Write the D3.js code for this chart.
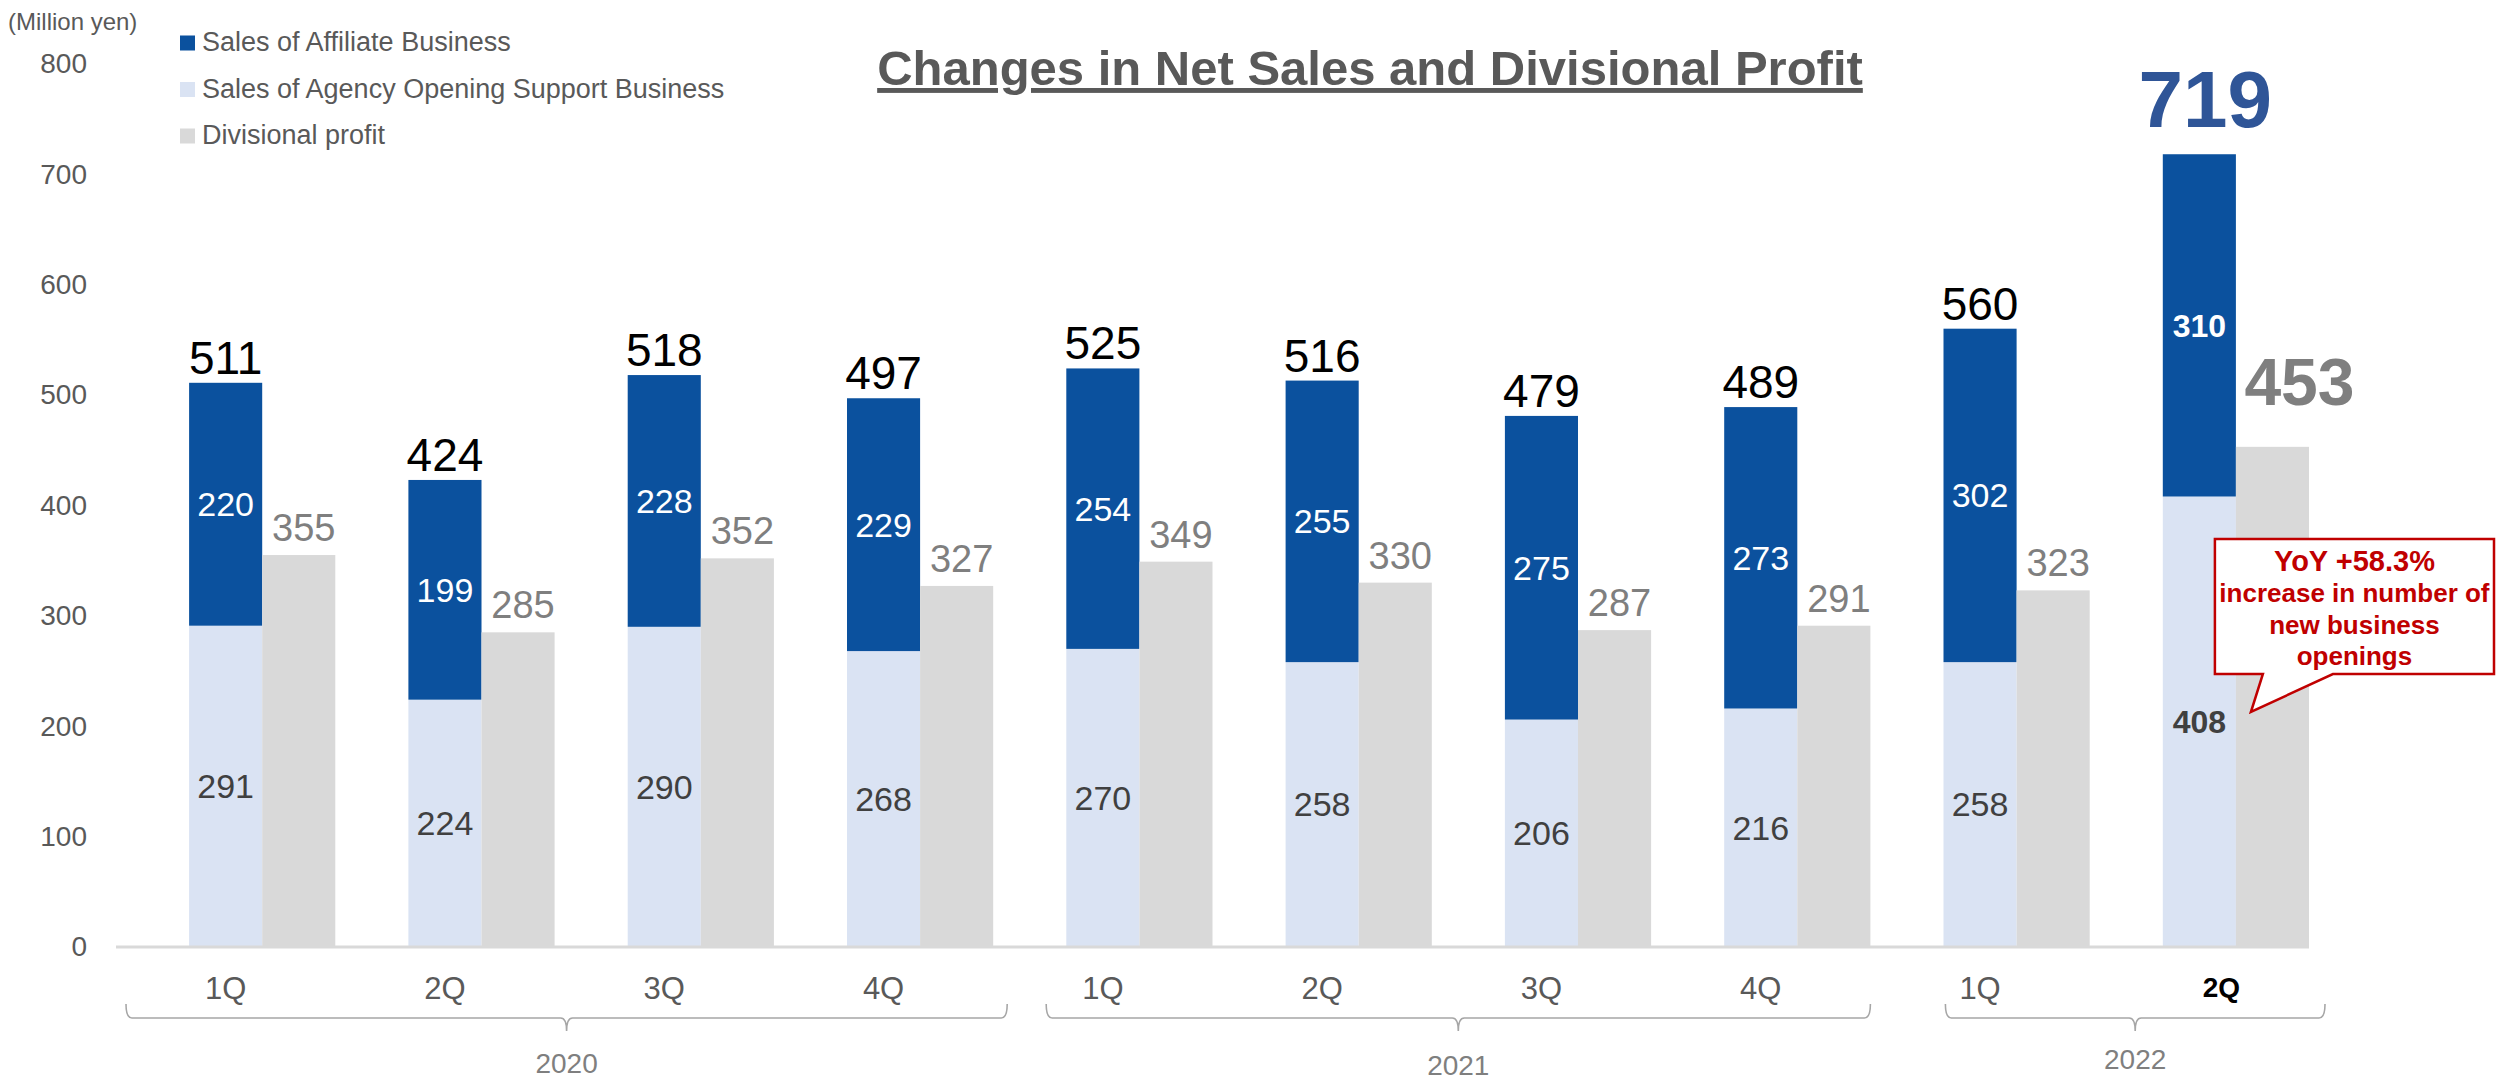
<!DOCTYPE html>
<html>
<head>
<meta charset="utf-8">
<script src="https://d3js.org/d3.v7.min.js"></script>
<style>
  body { margin: 0; background: #fff; }
  svg { display: block; font-family: "Liberation Sans", Arial, sans-serif; }
</style>
</head>
<body>
<script>
// ---- data (million yen) ----
var quarters = ["1Q", "2Q", "3Q", "4Q", "1Q", "2Q", "3Q", "4Q", "1Q", "2Q"];
var years = ["2020", "2021", "2022"];
var yearSpans = [[0, 3], [4, 7], [8, 9]];
var agencySales = [291, 224, 290, 268, 270, 258, 206, 216, 258, 408];
var affiliateSales = [220, 199, 228, 229, 254, 255, 275, 273, 302, 310];
var salesTotals = [511, 424, 518, 497, 525, 516, 479, 489, 560, 719];
var divisionalProfit = [355, 285, 352, 327, 349, 330, 287, 291, 323, 453];
var yTicks = [0, 100, 200, 300, 400, 500, 600, 700, 800];
var legendLabels = ["Sales of Affiliate Business", "Sales of Agency Opening Support Business", "Divisional profit"];
var calloutLines = ["YoY +58.3%", "increase in number of", "new business", "openings"];

// ---- layout ----
var W = 2496, H = 1081;
var colAffiliate = "#0b519e", colAgency = "#dae3f3", colProfit = "#d9d9d9";
var textGray = "#595959";
var last = quarters.length - 1;

var svg = d3.select("body").append("svg")
    .attr("width", W)
    .attr("height", H);

// scales
var x = d3.scaleBand().domain(d3.range(quarters.length)).range([116, 2309]).padding(0);
var inner = d3.scaleBand().domain(["gap", "sales", "profit"]).range([0, x.bandwidth()]);
var y = d3.scaleLinear().domain([0, 800]).range([947, 63.7]);

var salesX = function(i) { return x(i) + inner("sales"); };
var profitX = function(i) { return x(i) + inner("profit"); };
var bw = inner.bandwidth();

// y axis (labels only)
var yAxis = svg.append("g")
    .attr("transform", "translate(95,0)")
    .call(d3.axisLeft(y).tickValues(yTicks).tickSize(0).tickPadding(8));
yAxis.select(".domain").remove();
yAxis.selectAll("text")
    .attr("fill", textGray)
    .style("font-size", "28px")
    .style("font-family", "Liberation Sans, Arial, sans-serif");

// unit label
svg.append("text")
    .attr("x", 8).attr("y", 30)
    .attr("fill", textGray)
    .style("font-size", "24px")
    .text("(Million yen)");

// bars: agency (bottom), affiliate (stacked), profit (side)
var idx = d3.range(quarters.length);

svg.append("g").selectAll("rect")
    .data(idx).enter().append("rect")
    .attr("x", salesX)
    .attr("width", bw)
    .attr("y", function(i) { return y(agencySales[i]); })
    .attr("height", function(i) { return y(0) - y(agencySales[i]); })
    .attr("fill", colAgency);

svg.append("g").selectAll("rect")
    .data(idx).enter().append("rect")
    .attr("x", salesX)
    .attr("width", bw)
    .attr("y", function(i) { return y(agencySales[i] + affiliateSales[i]); })
    .attr("height", function(i) { return y(agencySales[i]) - y(agencySales[i] + affiliateSales[i]); })
    .attr("fill", colAffiliate);

svg.append("g").selectAll("rect")
    .data(idx).enter().append("rect")
    .attr("x", profitX)
    .attr("width", bw)
    .attr("y", function(i) { return y(divisionalProfit[i]); })
    .attr("height", function(i) { return y(0) - y(divisionalProfit[i]); })
    .attr("fill", colProfit);

// baseline
svg.append("line")
    .attr("x1", x.range()[0]).attr("x2", x.range()[1])
    .attr("y1", y(0)).attr("y2", y(0))
    .attr("stroke", "#d9d9d9")
    .attr("stroke-width", 3);

// segment labels
svg.append("g").selectAll("text")
    .data(idx).enter().append("text")
    .attr("x", function(i) { return salesX(i) + bw / 2; })
    .attr("y", function(i) { return y(agencySales[i] / 2); })
    .attr("dy", "0.35em")
    .attr("text-anchor", "middle")
    .attr("fill", "#404040")
    .style("font-size", function(i) { return i === last ? "32px" : "34px"; })
    .style("font-weight", function(i) { return i === last ? "bold" : "normal"; })
    .text(function(i) { return agencySales[i]; });

svg.append("g").selectAll("text")
    .data(idx).enter().append("text")
    .attr("x", function(i) { return salesX(i) + bw / 2; })
    .attr("y", function(i) { return y(agencySales[i] + affiliateSales[i] / 2); })
    .attr("dy", "0.35em")
    .attr("text-anchor", "middle")
    .attr("fill", "#ffffff")
    .style("font-size", function(i) { return i === last ? "32px" : "34px"; })
    .style("font-weight", function(i) { return i === last ? "bold" : "normal"; })
    .text(function(i) { return affiliateSales[i]; });

// total labels above the stacked bars
svg.append("g").selectAll("text")
    .data(idx).enter().append("text")
    .attr("x", function(i) { return salesX(i) + bw / 2 + (i === last ? 6 : 0); })
    .attr("y", function(i) { return y(agencySales[i] + affiliateSales[i]) - (i === last ? 27 : 9); })
    .attr("text-anchor", "middle")
    .attr("fill", function(i) { return i === last ? "#2f5597" : "#000"; })
    .style("font-size", function(i) { return i === last ? "80px" : "46px"; })
    .style("font-weight", function(i) { return i === last ? "bold" : "normal"; })
    .text(function(i) { return salesTotals[i]; });

// profit labels
svg.append("g").selectAll("text")
    .data(idx).enter().append("text")
    .attr("x", function(i) { return profitX(i) + bw / 2 + (i === last ? 27 : 5); })
    .attr("y", function(i) { return y(divisionalProfit[i]) - (i === last ? 42 : 14); })
    .attr("text-anchor", "middle")
    .attr("fill", "#7f7f7f")
    .style("font-size", function(i) { return i === last ? "66px" : "38px"; })
    .style("font-weight", function(i) { return i === last ? "bold" : "normal"; })
    .text(function(i) { return divisionalProfit[i]; });

// category axis labels
var xAxis = svg.append("g")
    .attr("transform", "translate(0," + y(0) + ")")
    .call(d3.axisBottom(x).tickSize(0).tickPadding(30).tickFormat(function(i) { return quarters[i]; }));
xAxis.select(".domain").remove();
xAxis.selectAll("text")
    .attr("fill", function(i) { return i === last ? "#000" : textGray; })
    .attr("dx", function(i) { return i === last ? 22 : 0; })
    .style("font-size", function(i) { return i === last ? "28px" : "31px"; })
    .style("font-weight", function(i) { return i === last ? "bold" : "normal"; })
    .style("font-family", "Liberation Sans, Arial, sans-serif");

// year brackets
var bracketInsets = [[10, 14], [53, 0], [75, 16]];
var yearBaselines = [1073, 1075, 1069];
var bTop = 1004, bLine = 1018, bTail = 1031;
yearSpans.forEach(function(s, k) {
    var l = x(s[0]) + bracketInsets[k][0];
    var r = x(s[1]) + x.bandwidth() + bracketInsets[k][1];
    var c = (l + r) / 2;
    var p = d3.path();
    p.moveTo(l, bTop);
    p.quadraticCurveTo(l, bLine, l + 6, bLine);
    p.lineTo(c - 6, bLine);
    p.quadraticCurveTo(c, bLine, c, bTail);
    p.quadraticCurveTo(c, bLine, c + 6, bLine);
    p.lineTo(r - 6, bLine);
    p.quadraticCurveTo(r, bLine, r, bTop);
    svg.append("path")
        .attr("d", p.toString())
        .attr("fill", "none")
        .attr("stroke", "#a6a6a6")
        .attr("stroke-width", 1.6);
    svg.append("text")
        .attr("x", c).attr("y", yearBaselines[k])
        .attr("text-anchor", "middle")
        .attr("fill", "#7f7f7f")
        .style("font-size", "28px")
        .text(years[k]);
});

// legend
var legend = svg.append("g");
[colAffiliate, colAgency, colProfit].forEach(function(c, k) {
    var cy = 43 + k * 46.5;
    legend.append("rect")
        .attr("x", 180).attr("y", cy - 7.5)
        .attr("width", 15).attr("height", 15)
        .attr("fill", c);
    legend.append("text")
        .attr("x", 202).attr("y", cy)
        .attr("dy", "0.3em")
        .attr("fill", textGray)
        .style("font-size", "27px")
        .text(legendLabels[k]);
});

// title
svg.append("text")
    .attr("x", 1370).attr("y", 85)
    .attr("text-anchor", "middle")
    .attr("fill", textGray)
    .style("font-size", "49px")
    .style("font-weight", "bold")
    .style("text-decoration", "underline")
    .text("Changes in Net Sales and Divisional Profit");

// callout on the latest quarter
var gx = profitX(last);
var cL = gx - 21, cR = W - 2, cT = 539, cB = 674;
var call = d3.path();
call.moveTo(cL, cT);
call.lineTo(cR, cT);
call.lineTo(cR, cB);
call.lineTo(gx + 97, cB);
call.lineTo(gx + 15, 712);
call.lineTo(gx + 27, cB);
call.lineTo(cL, cB);
call.closePath();
svg.append("path")
    .attr("d", call.toString())
    .attr("fill", "#fff")
    .attr("stroke", "#c00000")
    .attr("stroke-width", 2.5);

var cx = (cL + cR) / 2;
var lineY = [571, 602, 634, 665];
calloutLines.forEach(function(t, k) {
    svg.append("text")
        .attr("x", cx).attr("y", lineY[k])
        .attr("text-anchor", "middle")
        .attr("fill", "#c00000")
        .style("font-size", k === 0 ? "29px" : "26px")
        .style("font-weight", "bold")
        .text(t);
});
</script>
</body>
</html>
